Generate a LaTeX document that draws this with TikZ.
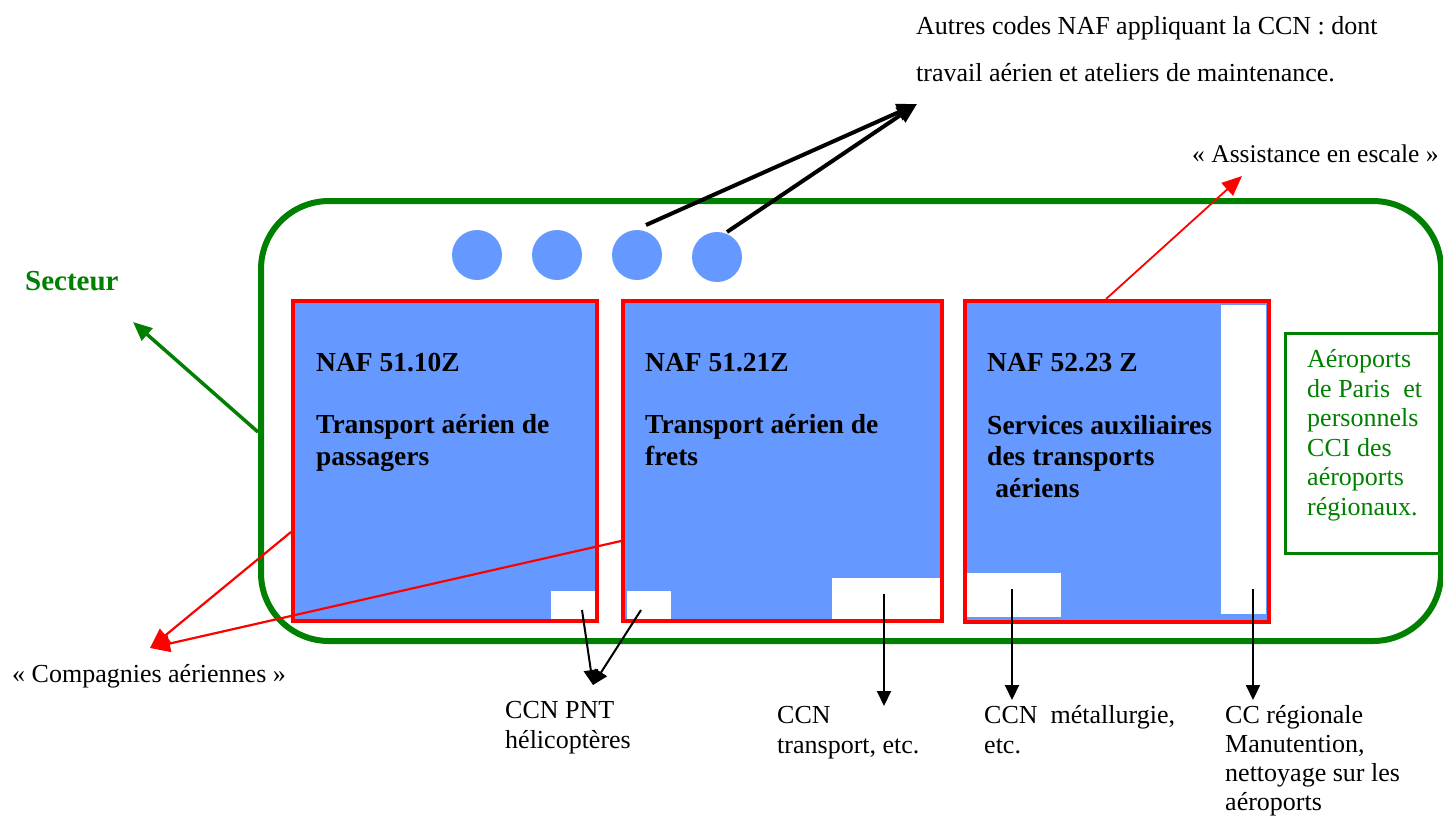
\documentclass[tikz,border=0pt]{standalone}
\usepackage{fontspec}
\setmainfont{Liberation Serif}
\usetikzlibrary{arrows.meta}
\definecolor{nafblue}{RGB}{102,153,255}
\definecolor{sectgreen}{RGB}{0,128,0}
\begin{document}
\begin{tikzpicture}[x=1pt, y=-1pt,
    nafbox/.style={draw=red, line width=4pt, fill=nafblue, minimum height=320pt},
    whitepatch/.style={fill=white},
    nafdot/.style={circle, fill=nafblue, minimum size=50pt},
    txt/.style={anchor=base west, align=left, font=\fontsize{26}{29.5}\selectfont},
    nafttl/.style={anchor=base west, align=left, font=\bfseries\fontsize{27.5}{31.5}\selectfont},
    blk/.style={black, line width=2pt, -{Triangle[length=15pt, width=14pt]}},
    blkthick/.style={black, line width=4pt, -{Triangle[length=20pt, width=17pt]}},
    redarr/.style={red, line width=2.2pt, -{Triangle[length=20pt, width=17pt]}},
    greenarr/.style={sectgreen, line width=3.5pt, -{Triangle[length=19pt, width=16pt]}}]
    \tikzstyle{every node}+=[inner sep=0pt]
    \useasboundingbox (0,0) rectangle (1443,815);
    % secteur
    \node [draw=sectgreen, line width=6pt, rounded corners=68pt, minimum width=1180pt, minimum height=440pt] (sector) at (851,421) {};
    \node [anchor=base west, text=sectgreen, font=\bfseries\fontsize{29}{34}\selectfont] (secteur) at (25,290) {Secteur};
    \coordinate (secteur tip) at (133,322);
    \draw [greenarr] ([yshift=-11pt]sector.west) -- (secteur tip);
    % autres codes (base = last line)
    \foreach \i/\x/\y in {1/477/255, 2/557/255, 3/637/255, 4/717/257}
        \node [nafdot] (dot\i) at (\x,\y) {};
    \node [txt, font=\fontsize{26}{47}\selectfont] (autres) at (916,81) {Autres codes NAF appliquant la CCN : dont\\travail aérien et ateliers de maintenance.};
    \coordinate (autres tip) at (917,104);
    \draw [blkthick] ([shift={(9,-30)}]dot3.center) -- (autres tip);
    \draw [blkthick] ([shift={(10,-25)}]dot4.center) -- (autres tip);
    % codes NAF
    \node [nafbox, minimum width=304pt] (box1) at (445,461) {};
    \node [nafbox, minimum width=319pt] (box2) at (782.5,461) {};
    \node [nafbox, minimum width=304pt, minimum height=321pt] (box3) at (1117,461.5) {};
    \node [whitepatch, minimum width=44pt, minimum height=28pt] (w1) at (573,605) {};
    \node [whitepatch, minimum width=44pt, minimum height=28pt] (w2) at (649,605) {};
    \node [whitepatch, minimum width=108pt, minimum height=41pt] (w3) at (886,598.5) {};
    \node [whitepatch, minimum width=94pt, minimum height=44pt] (w4) at (1014,595) {};
    \node [whitepatch, minimum width=45pt, minimum height=309pt] (w5) at (1243.5,459.5) {};
    \node [nafttl] (naf1) at (316,371) {NAF 51.10Z};
    \node [nafttl] (act1) at (316,465) {Transport aérien de\\passagers};
    \node [nafttl] (naf2) at (645,371) {NAF 51.21Z};
    \node [nafttl] (act2) at (645,465) {Transport aérien de\\frets};
    \node [nafttl] (naf3) at (987,371) {NAF 52.23 Z};
    \node [nafttl] (act3) at (987,497) {Services auxiliaires\\des transports\\\hspace*{0.3em}aériens};
    % aeroports
    \node [draw=sectgreen, line width=3pt, minimum width=170pt, minimum height=220pt] (adp) at (1370,443) {};
    \node [txt, text=sectgreen] (adptxt) at (1307,515) {Aéroports\\de Paris\ \ et\\personnels\\CCI des\\aéroports\\régionaux.};
    % compagnies et escale
    \node [txt] (compagnies) at (12,682) {« Compagnies aériennes »};
    \coordinate (compagnies tip) at (150,648);
    \draw [redarr] ([yshift=-71pt]box1.west) -- (compagnies tip);
    \draw [redarr] ([yshift=-80pt]box2.west) -- (compagnies tip);
    \node [txt, font=\fontsize{25.5}{29.5}\selectfont] (escale) at (1192,162) {« Assistance en escale »};
    \coordinate (escale tip) at (1242,176);
    \draw [redarr, line width=1.8pt] ([xshift=-11pt]box3.north) -- (escale tip);
    % conventions
    \node [txt, font=\fontsize{26}{30}\selectfont] (pnt) at (505,748) {CCN PNT\\hélicoptères};
    \node [txt, font=\fontsize{26}{30}\selectfont] (transport) at (777,753) {CCN\\transport, etc.};
    \node [txt, font=\fontsize{26}{30}\selectfont] (metal) at (984,753) {CCN\ \ métallurgie,\\etc.};
    \node [txt, font=\fontsize{26}{29}\selectfont] (regionale) at (1225,810) {CC régionale\\Manutention,\\nettoyage sur les\\aéroports};
    \coordinate (pnt tip) at (593,685);
    \coordinate (transport tip) at (884,706);
    \coordinate (metal tip) at (1012,700);
    \coordinate (regionale tip) at (1253,700);
    \draw [blk] ([shift={(9,5)}]w1.center) -- (pnt tip);
    \draw [blk] ([shift={(-8,5)}]w2.center) -- (pnt tip);
    \draw [blk] ([shift={(-2,-5)}]w3.center) -- (transport tip);
    \draw [blk] ([shift={(-2,-6)}]w4.center) -- (metal tip);
    \draw [blk] ([shift={(9.5,-25)}]w5.south) -- (regionale tip);
\end{tikzpicture}
\end{document}
